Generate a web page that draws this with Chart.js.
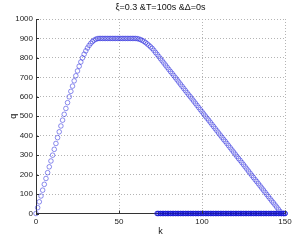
<!DOCTYPE html>
<html>
<head>
<meta charset="utf-8">
<script src="https://cdn.jsdelivr.net/npm/chart.js@4/dist/chart.umd.min.js"></script>
<style>
  html, body { margin: 0; padding: 0; background: #fff; }
  #wrap { width: 306px; height: 240px; }
</style>
</head>
<body>
<div id="wrap"><canvas id="c" width="306" height="240"></canvas></div>
<script>
const TITLE   = 'ξ=0.3 &T=100s &Δ=0s';
const X_LABEL = 'k';
const Y_LABEL = 'q';
const X_TICKS = [0, 50, 100, 150];
const Y_TICKS = [0, 100, 200, 300, 400, 500, 600, 700, 800, 900, 1000];

// q for k = 0 .. 150 (one value per step)
const Q_MAIN = [
  0, 30, 60, 90, 120, 150, 180, 210, 240, 270,
  300, 330, 360, 390, 420, 450, 480, 510, 540, 570,
  600, 628, 655, 682, 708, 733, 757, 779, 800, 819,
  836, 851, 864, 875, 884, 891, 896, 899, 900, 900,
  900, 900, 900, 900, 900, 900, 900, 900, 900, 900,
  900, 900, 900, 900, 900, 900, 900, 900, 900, 900,
  900, 899, 897, 894, 890, 885, 879, 872, 865, 857,
  849, 839, 828, 818, 807, 796, 785, 774, 763, 752,
  741, 730, 720, 709, 698, 687, 676, 665, 654, 643,
  632, 621, 610, 600, 589, 578, 567, 556, 545, 534,
  523, 512, 501, 490, 480, 469, 458, 447, 436, 425,
  414, 403, 392, 381, 371, 360, 349, 338, 327, 316,
  305, 294, 283, 273, 262, 251, 240, 229, 218, 207,
  196, 185, 174, 164, 153, 142, 131, 120, 109, 98,
  87, 76, 65, 55, 44, 33, 22, 11, 0, 0,
  0
];

// second series: q = 0 for k = 73 .. 150
const K_ZERO_FIRST = 73;
const Q_ZERO = [
  0, 0, 0, 0, 0, 0, 0, 0, 0, 0,
  0, 0, 0, 0, 0, 0, 0, 0, 0, 0,
  0, 0, 0, 0, 0, 0, 0, 0, 0, 0,
  0, 0, 0, 0, 0, 0, 0, 0, 0, 0,
  0, 0, 0, 0, 0, 0, 0, 0, 0, 0,
  0, 0, 0, 0, 0, 0, 0, 0, 0, 0,
  0, 0, 0, 0, 0, 0, 0, 0, 0, 0,
  0, 0, 0, 0, 0, 0, 0, 0
];

const FONT = 'Liberation Sans, Arial, sans-serif';
const AXIS_COLOR = '#333';
const GRID_COLOR = '#b4b4b4';
const MARK_COLOR = 'rgba(30,30,220,0.85)';

// inward tick marks like the original axes
const innerTicks = {
  id: 'innerTicks',
  afterDraw(chart) {
    const { ctx, chartArea: a, scales: { x, y } } = chart;
    ctx.save();
    ctx.strokeStyle = AXIS_COLOR;
    ctx.lineWidth = 1;
    ctx.beginPath();
    Y_TICKS.forEach(v => {
      const py = Math.round(y.getPixelForValue(v)) + 0.5;
      ctx.moveTo(a.left, py); ctx.lineTo(a.left + 3, py);
    });
    X_TICKS.forEach(v => {
      const px = Math.round(x.getPixelForValue(v)) + 0.5;
      ctx.moveTo(px, a.bottom); ctx.lineTo(px, a.bottom - 3);
    });
    ctx.stroke();
    ctx.restore();
  }
};

const markStyle = {
  showLine: false,
  pointStyle: 'circle',
  pointRadius: 2.3,
  pointHoverRadius: 2.3,
  pointBorderWidth: 0.6,
  pointBorderColor: MARK_COLOR,
  pointBackgroundColor: 'rgba(0,0,0,0)',
  clip: false,
};

new Chart(document.getElementById('c'), {
  type: 'scatter',
  plugins: [innerTicks],
  data: {
    datasets: [
      { ...markStyle, data: Q_MAIN.map((q, k) => ({ x: k, y: q })) },
      { ...markStyle, pointBorderWidth: 1, pointBorderColor: 'rgb(20,20,210)',
        data: Q_ZERO.map((q, i) => ({ x: K_ZERO_FIRST + i, y: q })) },
    ]
  },
  options: {
    responsive: false,
    animation: false,
    events: [],
    layout: { padding: { left: 0, right: 21, top: 0, bottom: 0 } },
    plugins: {
      legend: { display: false },
      tooltip: { enabled: false },
      title: {
        display: true,
        text: TITLE,
        fullSize: false,
        color: '#111',
        font: { family: FONT, size: 9, weight: 'normal' },
        padding: { top: 2, bottom: 6.2 },
      },
    },
    scales: {
      x: {
        type: 'linear',
        min: 0, max: 150,
        afterFit: s => { s.height = 26.5; },
        afterBuildTicks: s => { s.ticks = X_TICKS.map(v => ({ value: v })); },
        ticks: { color: '#222', padding: 3, font: { family: FONT, size: 8 }, callback: v => String(v) },
        grid: { color: GRID_COLOR, lineWidth: 1, drawTicks: false },
        border: { display: true, color: AXIS_COLOR, width: 1, dash: [1, 2] },
        title: {
          display: true, text: X_LABEL, color: '#111',
          font: { family: FONT, size: 9 },
          padding: { top: 0, bottom: 2.6 },
        },
      },
      y: {
        min: 0, max: 1000,
        afterFit: s => { s.width = 36; },
        afterBuildTicks: s => { s.ticks = Y_TICKS.map(v => ({ value: v })); },
        ticks: { color: '#222', padding: 3, font: { family: FONT, size: 8 }, callback: v => String(v) },
        grid: { color: GRID_COLOR, lineWidth: 1, drawTicks: false },
        border: { display: true, color: AXIS_COLOR, width: 1, dash: [1, 2] },
        title: {
          display: true, text: Y_LABEL, color: '#111',
          font: { family: FONT, size: 9 },
          padding: { top: 8.6, bottom: 0 },
        },
      },
    },
  },
});
</script>
</body>
</html>
